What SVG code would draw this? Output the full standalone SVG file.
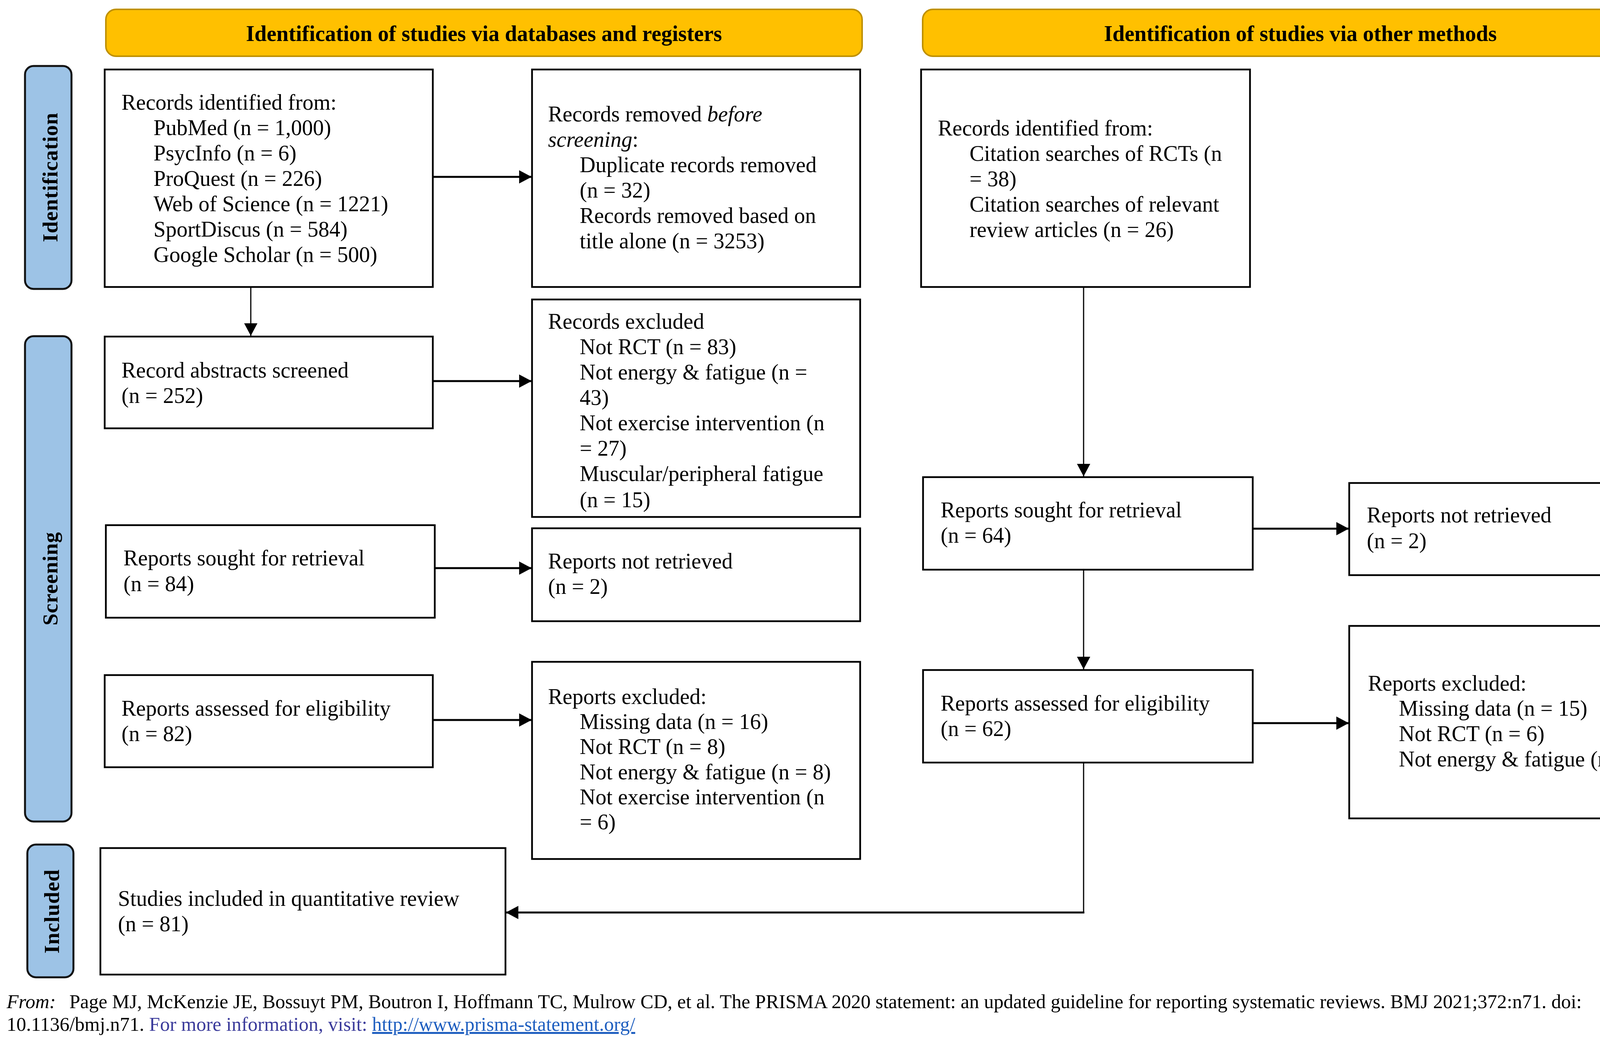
<svg xmlns="http://www.w3.org/2000/svg" width="4333" height="2661" viewBox="0 0 4333 2661">
<style>
.hdr{fill:#FFC000;stroke:#BF9000;stroke-width:4}
.hdrt{font-family:"Liberation Serif","Times New Roman",serif;font-weight:bold;font-size:56px;fill:#000;text-anchor:middle}
.side{fill:#9DC3E6;stroke:#111;stroke-width:5}
.sidet{font-family:"Liberation Serif","Times New Roman",serif;font-weight:bold;font-size:55px;fill:#000;text-anchor:middle;letter-spacing:1px}
.box{fill:#fff;stroke:#000;stroke-width:4.5}
.t{font-family:"Liberation Serif","Times New Roman",serif;font-size:56px;fill:#000}
.thin{fill:none;stroke:#000;stroke-width:3}
.thick{fill:none;stroke:#000;stroke-width:5}
.foot{font-family:"Liberation Serif","Times New Roman",serif;font-size:50px;fill:#000}
</style>
<defs>
<marker id="ah" markerUnits="userSpaceOnUse" markerWidth="34" markerHeight="34" viewBox="0 0 32 34" refX="32" refY="17" orient="auto">
<path d="M0,0 L32,17 L0,34 Z" fill="#000"/>
</marker>
</defs>
<rect width="4333" height="2661" fill="#fff"/>

<g id="header-databases">
<rect class="hdr" x="271" y="24" width="1936" height="120" rx="26"/>
<text class="hdrt" x="1239" y="105">Identification of studies via databases and registers</text>
</g>
<g id="header-other">
<rect class="hdr" x="2362" y="24" width="1935" height="120" rx="26"/>
<text class="hdrt" x="3329" y="105">Identification of studies via other methods</text>
</g>

<g id="label-identification">
<rect class="side" x="64" y="169" width="119" height="571" rx="22"/>
<text class="sidet" transform="translate(147,454) rotate(-90)">Identification</text>
</g>
<g id="label-screening">
<rect class="side" x="64" y="861" width="119" height="1243" rx="22"/>
<text class="sidet" transform="translate(147,1482) rotate(-90)">Screening</text>
</g>
<g id="label-included">
<rect class="side" x="70" y="2163" width="118" height="340" rx="22"/>
<text class="sidet" transform="translate(151,2334) rotate(-90)">Included</text>
</g>

<g id="connectors">
<path class="thin" d="M642,735 L642,860" marker-end="url(#ah)"/>
<path class="thick" d="M1108,453 L1361,453" marker-end="url(#ah)"/>
<path class="thick" d="M1108,976 L1361,976" marker-end="url(#ah)"/>
<path class="thick" d="M1113,1455 L1361,1455" marker-end="url(#ah)"/>
<path class="thick" d="M1108,1844 L1361,1844" marker-end="url(#ah)"/>
<path class="thin" d="M2774,735 L2774,1220" marker-end="url(#ah)"/>
<path class="thick" d="M3207,1354 L3453,1354" marker-end="url(#ah)"/>
<path class="thin" d="M2774,1459 L2774,1714" marker-end="url(#ah)"/>
<path class="thick" d="M3207,1852 L3453,1852" marker-end="url(#ah)"/>
<path class="thin" d="M2774,1953 L2774,2337"/>
<path class="thick" d="M2776,2337 L1295,2337" marker-end="url(#ah)"/>
</g>

<g id="records-identified-db">
<rect class="box" x="268" y="178" width="840" height="557"/>
<text class="t" x="311" y="281">Records identified from:</text>
<text class="t" x="393" y="346">PubMed (n = 1,000)</text>
<text class="t" x="393" y="411">PsycInfo (n = 6)</text>
<text class="t" x="393" y="476">ProQuest (n = 226)</text>
<text class="t" x="393" y="541">Web of Science (n = 1221)</text>
<text class="t" x="393" y="606">SportDiscus (n = 584)</text>
<text class="t" x="393" y="671">Google Scholar (n = 500)</text>
</g>

<g id="records-removed">
<rect class="box" x="1362" y="178" width="840" height="557"/>
<text class="t" x="1403" y="311">Records removed <tspan font-style="italic">before</tspan></text>
<text class="t" x="1403" y="376"><tspan font-style="italic">screening</tspan>:</text>
<text class="t" x="1484" y="441">Duplicate records removed</text>
<text class="t" x="1484" y="506">(n = 32)</text>
<text class="t" x="1484" y="571">Records removed based on</text>
<text class="t" x="1484" y="636">title alone (n = 3253)</text>
</g>

<g id="records-identified-other">
<rect class="box" x="2358" y="178" width="842" height="557"/>
<text class="t" x="2401" y="347">Records identified from:</text>
<text class="t" x="2482" y="412">Citation searches of RCTs (n</text>
<text class="t" x="2482" y="477">= 38)</text>
<text class="t" x="2482" y="542">Citation searches of relevant</text>
<text class="t" x="2482" y="607">review articles (n = 26)</text>
</g>

<g id="abstracts-screened">
<rect class="box" x="268" y="862" width="840" height="235"/>
<text class="t" x="311" y="967">Record abstracts screened</text>
<text class="t" x="311" y="1032">(n = 252)</text>
</g>

<g id="records-excluded">
<rect class="box" x="1362" y="767" width="840" height="557"/>
<text class="t" x="1403" y="842">Records excluded</text>
<text class="t" x="1484" y="907">Not RCT (n = 83)</text>
<text class="t" x="1484" y="972">Not energy &amp; fatigue (n =</text>
<text class="t" x="1484" y="1037">43)</text>
<text class="t" x="1484" y="1102">Not exercise intervention (n</text>
<text class="t" x="1484" y="1167">= 27)</text>
<text class="t" x="1484" y="1232">Muscular/peripheral fatigue</text>
<text class="t" x="1484" y="1299">(n = 15)</text>
</g>

<g id="reports-sought-db">
<rect class="box" x="271" y="1345" width="842" height="237"/>
<text class="t" x="316" y="1448">Reports sought for retrieval</text>
<text class="t" x="316" y="1514">(n = 84)</text>
</g>

<g id="reports-not-retrieved-db">
<rect class="box" x="1362" y="1353" width="840" height="238"/>
<text class="t" x="1403" y="1456">Reports not retrieved</text>
<text class="t" x="1403" y="1521">(n = 2)</text>
</g>

<g id="reports-assessed-db">
<rect class="box" x="268" y="1729" width="840" height="236"/>
<text class="t" x="311" y="1833">Reports assessed for eligibility</text>
<text class="t" x="311" y="1898">(n = 82)</text>
</g>

<g id="reports-excluded-db">
<rect class="box" x="1362" y="1695" width="840" height="505"/>
<text class="t" x="1403" y="1803">Reports excluded:</text>
<text class="t" x="1484" y="1867">Missing data (n = 16)</text>
<text class="t" x="1484" y="1931">Not RCT (n = 8)</text>
<text class="t" x="1484" y="1996">Not energy &amp; fatigue (n = 8)</text>
<text class="t" x="1484" y="2060">Not exercise intervention (n</text>
<text class="t" x="1484" y="2124">= 6)</text>
</g>

<g id="studies-included">
<rect class="box" x="257" y="2172" width="1037" height="324"/>
<text class="t" x="302" y="2320">Studies included in quantitative review</text>
<text class="t" x="302" y="2385">(n = 81)</text>
</g>

<g id="reports-sought-other">
<rect class="box" x="2363" y="1222" width="844" height="237"/>
<text class="t" x="2408" y="1325">Reports sought for retrieval</text>
<text class="t" x="2408" y="1390">(n = 64)</text>
</g>

<g id="reports-not-retrieved-other">
<rect class="box" x="3454" y="1237" width="843" height="236"/>
<text class="t" x="3499" y="1338">Reports not retrieved</text>
<text class="t" x="3499" y="1404">(n = 2)</text>
</g>

<g id="reports-assessed-other">
<rect class="box" x="2363" y="1716" width="844" height="237"/>
<text class="t" x="2408" y="1820">Reports assessed for eligibility</text>
<text class="t" x="2408" y="1885">(n = 62)</text>
</g>

<g id="reports-excluded-other">
<rect class="box" x="3454" y="1603" width="843" height="493"/>
<text class="t" x="3502" y="1769">Reports excluded:</text>
<text class="t" x="3581" y="1833">Missing data (n = 15)</text>
<text class="t" x="3581" y="1898">Not RCT (n = 6)</text>
<text class="t" x="3581" y="1963">Not energy &amp; fatigue (n = 4)</text>
</g>

<g id="footer">
<text class="foot" x="17" y="2582"><tspan font-style="italic">From:</tspan><tspan dx="22"> Page MJ, McKenzie JE, Bossuyt PM, Boutron I, Hoffmann TC, Mulrow CD, et al. The PRISMA 2020 statement: an updated guideline for reporting systematic reviews. BMJ 2021;372:n71. doi:</tspan></text>
<text class="foot" x="17" y="2640">10.1136/bmj.n71. <tspan fill="#3B3B9B">For more information, visit: </tspan><tspan fill="#1F5FC0" text-decoration="underline">http://www.prisma-statement.org/</tspan></text>
</g>
</svg>
